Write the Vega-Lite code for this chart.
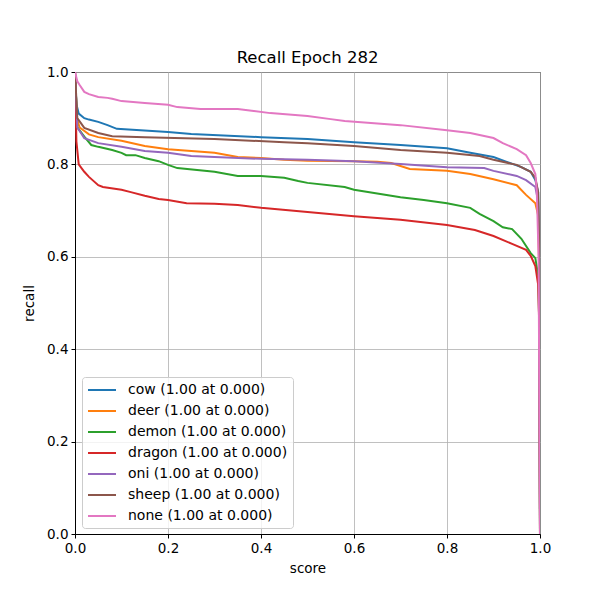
{
  "$schema": "https://vega.github.io/schema/vega-lite/v6.json",
  "width": 465,
  "height": 462,
  "autosize": "none",
  "padding": {"left": 75, "top": 72, "right": 60, "bottom": 66},
  "background": "white",
  "title": {"text": "Recall Epoch 282", "fontSize": 16.5, "font": "DejaVu Sans", "fontWeight": "normal", "color": "black", "offset": -1},
  "config": {
    "view": {"stroke": "black", "strokeWidth": 1},
    "axis": {"labelFont": "DejaVu Sans", "titleFont": "DejaVu Sans", "labelFontSize": 13.5, "titleFontSize": 13.5, "titleFontWeight": "normal", "labelColor": "black", "titleColor": "black", "domainColor": "black", "tickColor": "black", "tickSize": 4, "labelPadding": 3, "labelFlush": false, "gridColor": "#b0b0b0", "gridWidth": 0.8, "gridOpacity": 1}
  },
  "data": {"values": [
    {"c":"cow","x":0,"y":1.0},{"c":"cow","x":0.003,"y":0.93},{"c":"cow","x":0.008,"y":0.91},{"c":"cow","x":0.02,"y":0.9},{"c":"cow","x":0.03,"y":0.897},{"c":"cow","x":0.05,"y":0.892},{"c":"cow","x":0.07,"y":0.885},{"c":"cow","x":0.09,"y":0.877},{"c":"cow","x":0.2,"y":0.87},{"c":"cow","x":0.25,"y":0.866},{"c":"cow","x":0.4,"y":0.859},{"c":"cow","x":0.5,"y":0.855},{"c":"cow","x":0.6,"y":0.848},{"c":"cow","x":0.7,"y":0.842},{"c":"cow","x":0.8,"y":0.835},{"c":"cow","x":0.85,"y":0.825},{"c":"cow","x":0.9,"y":0.816},{"c":"cow","x":0.93,"y":0.805},{"c":"cow","x":0.96,"y":0.794},{"c":"cow","x":0.98,"y":0.784},{"c":"cow","x":0.99,"y":0.766},{"c":"cow","x":0.996,"y":0.74},{"c":"cow","x":0.9985,"y":0.6},{"c":"cow","x":1.0,"y":0},
    {"c":"deer","x":0,"y":1.0},{"c":"deer","x":0.004,"y":0.9},{"c":"deer","x":0.01,"y":0.88},{"c":"deer","x":0.03,"y":0.865},{"c":"deer","x":0.05,"y":0.859},{"c":"deer","x":0.1,"y":0.851},{"c":"deer","x":0.15,"y":0.84},{"c":"deer","x":0.2,"y":0.833},{"c":"deer","x":0.3,"y":0.825},{"c":"deer","x":0.35,"y":0.816},{"c":"deer","x":0.4,"y":0.814},{"c":"deer","x":0.45,"y":0.81},{"c":"deer","x":0.5,"y":0.808},{"c":"deer","x":0.6,"y":0.807},{"c":"deer","x":0.65,"y":0.806},{"c":"deer","x":0.68,"y":0.803},{"c":"deer","x":0.72,"y":0.79},{"c":"deer","x":0.8,"y":0.786},{"c":"deer","x":0.85,"y":0.779},{"c":"deer","x":0.9,"y":0.768},{"c":"deer","x":0.95,"y":0.755},{"c":"deer","x":0.97,"y":0.734},{"c":"deer","x":0.99,"y":0.716},{"c":"deer","x":0.996,"y":0.69},{"c":"deer","x":0.9985,"y":0.55},{"c":"deer","x":1.0,"y":0},
    {"c":"demon","x":0,"y":1.0},{"c":"demon","x":0.005,"y":0.88},{"c":"demon","x":0.02,"y":0.86},{"c":"demon","x":0.035,"y":0.842},{"c":"demon","x":0.05,"y":0.838},{"c":"demon","x":0.08,"y":0.831},{"c":"demon","x":0.1,"y":0.825},{"c":"demon","x":0.11,"y":0.82},{"c":"demon","x":0.13,"y":0.82},{"c":"demon","x":0.15,"y":0.814},{"c":"demon","x":0.18,"y":0.807},{"c":"demon","x":0.2,"y":0.799},{"c":"demon","x":0.22,"y":0.792},{"c":"demon","x":0.3,"y":0.784},{"c":"demon","x":0.35,"y":0.775},{"c":"demon","x":0.4,"y":0.775},{"c":"demon","x":0.45,"y":0.771},{"c":"demon","x":0.48,"y":0.764},{"c":"demon","x":0.5,"y":0.76},{"c":"demon","x":0.58,"y":0.751},{"c":"demon","x":0.6,"y":0.745},{"c":"demon","x":0.7,"y":0.729},{"c":"demon","x":0.75,"y":0.723},{"c":"demon","x":0.8,"y":0.716},{"c":"demon","x":0.85,"y":0.706},{"c":"demon","x":0.87,"y":0.693},{"c":"demon","x":0.9,"y":0.677},{"c":"demon","x":0.92,"y":0.664},{"c":"demon","x":0.94,"y":0.66},{"c":"demon","x":0.96,"y":0.639},{"c":"demon","x":0.98,"y":0.608},{"c":"demon","x":0.99,"y":0.597},{"c":"demon","x":0.996,"y":0.56},{"c":"demon","x":0.9985,"y":0.45},{"c":"demon","x":1.0,"y":0},
    {"c":"dragon","x":0,"y":1.0},{"c":"dragon","x":0.003,"y":0.85},{"c":"dragon","x":0.008,"y":0.8},{"c":"dragon","x":0.02,"y":0.784},{"c":"dragon","x":0.03,"y":0.773},{"c":"dragon","x":0.05,"y":0.755},{"c":"dragon","x":0.06,"y":0.751},{"c":"dragon","x":0.1,"y":0.745},{"c":"dragon","x":0.12,"y":0.74},{"c":"dragon","x":0.15,"y":0.732},{"c":"dragon","x":0.18,"y":0.725},{"c":"dragon","x":0.2,"y":0.723},{"c":"dragon","x":0.24,"y":0.716},{"c":"dragon","x":0.3,"y":0.715},{"c":"dragon","x":0.35,"y":0.712},{"c":"dragon","x":0.4,"y":0.706},{"c":"dragon","x":0.5,"y":0.697},{"c":"dragon","x":0.6,"y":0.688},{"c":"dragon","x":0.7,"y":0.68},{"c":"dragon","x":0.8,"y":0.669},{"c":"dragon","x":0.86,"y":0.658},{"c":"dragon","x":0.9,"y":0.645},{"c":"dragon","x":0.94,"y":0.628},{"c":"dragon","x":0.97,"y":0.615},{"c":"dragon","x":0.98,"y":0.602},{"c":"dragon","x":0.99,"y":0.58},{"c":"dragon","x":0.996,"y":0.54},{"c":"dragon","x":0.9985,"y":0.45},{"c":"dragon","x":1.0,"y":0},
    {"c":"oni","x":0,"y":1.0},{"c":"oni","x":0.005,"y":0.88},{"c":"oni","x":0.02,"y":0.857},{"c":"oni","x":0.05,"y":0.846},{"c":"oni","x":0.1,"y":0.838},{"c":"oni","x":0.15,"y":0.829},{"c":"oni","x":0.2,"y":0.825},{"c":"oni","x":0.25,"y":0.818},{"c":"oni","x":0.3,"y":0.816},{"c":"oni","x":0.4,"y":0.812},{"c":"oni","x":0.5,"y":0.81},{"c":"oni","x":0.6,"y":0.807},{"c":"oni","x":0.7,"y":0.801},{"c":"oni","x":0.8,"y":0.794},{"c":"oni","x":0.88,"y":0.792},{"c":"oni","x":0.9,"y":0.786},{"c":"oni","x":0.95,"y":0.775},{"c":"oni","x":0.97,"y":0.766},{"c":"oni","x":0.99,"y":0.751},{"c":"oni","x":0.996,"y":0.72},{"c":"oni","x":0.9985,"y":0.6},{"c":"oni","x":1.0,"y":0},
    {"c":"sheep","x":0,"y":1.0},{"c":"sheep","x":0.005,"y":0.9},{"c":"sheep","x":0.02,"y":0.879},{"c":"sheep","x":0.05,"y":0.868},{"c":"sheep","x":0.08,"y":0.861},{"c":"sheep","x":0.15,"y":0.859},{"c":"sheep","x":0.3,"y":0.855},{"c":"sheep","x":0.45,"y":0.848},{"c":"sheep","x":0.5,"y":0.846},{"c":"sheep","x":0.6,"y":0.84},{"c":"sheep","x":0.7,"y":0.831},{"c":"sheep","x":0.8,"y":0.825},{"c":"sheep","x":0.87,"y":0.818},{"c":"sheep","x":0.9,"y":0.81},{"c":"sheep","x":0.95,"y":0.799},{"c":"sheep","x":0.98,"y":0.784},{"c":"sheep","x":0.99,"y":0.771},{"c":"sheep","x":0.996,"y":0.74},{"c":"sheep","x":0.9985,"y":0.6},{"c":"sheep","x":1.0,"y":0},
    {"c":"none","x":0,"y":1.0},{"c":"none","x":0.005,"y":0.98},{"c":"none","x":0.01,"y":0.972},{"c":"none","x":0.02,"y":0.957},{"c":"none","x":0.03,"y":0.952},{"c":"none","x":0.05,"y":0.946},{"c":"none","x":0.07,"y":0.944},{"c":"none","x":0.08,"y":0.942},{"c":"none","x":0.1,"y":0.937},{"c":"none","x":0.15,"y":0.933},{"c":"none","x":0.2,"y":0.929},{"c":"none","x":0.22,"y":0.924},{"c":"none","x":0.27,"y":0.92},{"c":"none","x":0.35,"y":0.92},{"c":"none","x":0.38,"y":0.916},{"c":"none","x":0.42,"y":0.911},{"c":"none","x":0.5,"y":0.905},{"c":"none","x":0.55,"y":0.898},{"c":"none","x":0.58,"y":0.894},{"c":"none","x":0.7,"y":0.885},{"c":"none","x":0.8,"y":0.874},{"c":"none","x":0.85,"y":0.868},{"c":"none","x":0.9,"y":0.857},{"c":"none","x":0.92,"y":0.846},{"c":"none","x":0.95,"y":0.833},{"c":"none","x":0.97,"y":0.82},{"c":"none","x":0.98,"y":0.803},{"c":"none","x":0.99,"y":0.779},{"c":"none","x":0.993,"y":0.745},{"c":"none","x":0.997,"y":0.6},{"c":"none","x":1.0,"y":0}
  ]},
  "mark": {"type": "line", "strokeWidth": 2, "clip": true},
  "encoding": {
    "x": {"field": "x", "type": "quantitative", "title": "score", "scale": {"domain": [0, 1], "nice": false}, "axis": {"values": [0, 0.2, 0.4, 0.6, 0.8, 1.0], "format": ".1f", "titlePadding": 7}},
    "y": {"field": "y", "type": "quantitative", "title": "recall", "scale": {"domain": [0, 1], "nice": false}, "axis": {"values": [0, 0.2, 0.4, 0.6, 0.8, 1.0], "format": ".1f", "titlePadding": 10}},
    "color": {"field": "c", "type": "nominal", "sort": null,
      "scale": {"domain": ["cow", "deer", "demon", "dragon", "oni", "sheep", "none"], "range": ["#1f77b4", "#ff7f0e", "#2ca02c", "#d62728", "#9467bd", "#8c564b", "#e377c2"]},
      "legend": {"title": null, "orient": "none", "legendX": 7, "legendY": 305, "labelExpr": "datum.label + ' (1.00 at 0.000)'", "symbolType": "M-1,0H3", "symbolSize": 196, "symbolStrokeWidth": 2, "labelFont": "DejaVu Sans", "labelFontSize": 14, "labelColor": "black", "rowPadding": 6, "labelOffset": 25, "padding": 5, "strokeColor": "#cccccc", "fillColor": "rgba(255,255,255,0.8)", "cornerRadius": 3}}
  }
}
